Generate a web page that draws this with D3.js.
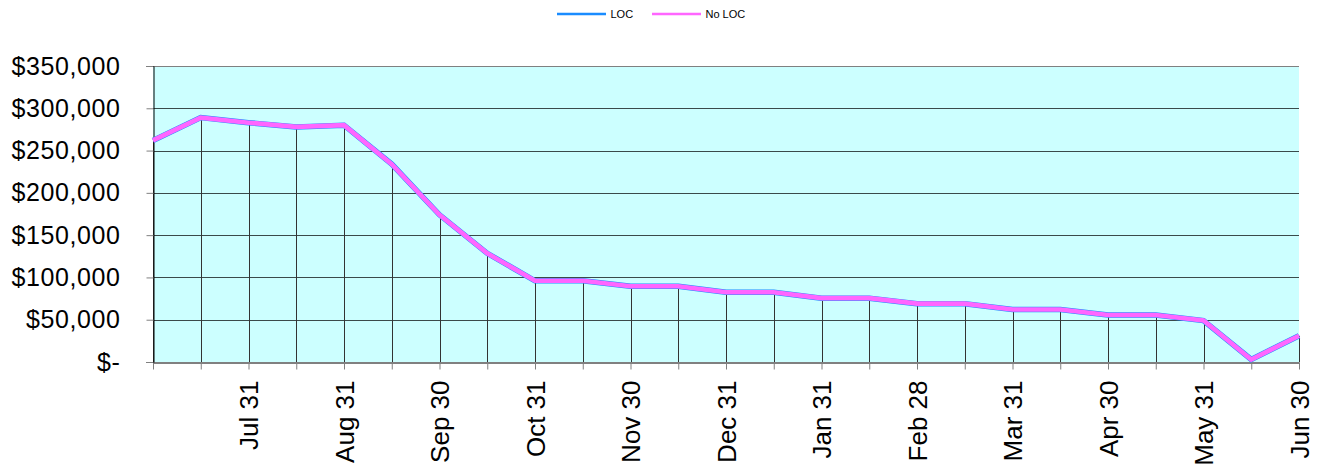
<!DOCTYPE html>
<html>
<head>
<meta charset="utf-8">
<script src="https://cdn.jsdelivr.net/npm/d3@7"></script>
<style>
  html, body { margin: 0; padding: 0; background: #ffffff; }
  svg { display: block; font-family: "Liberation Sans", Arial, sans-serif; }
</style>
</head>
<body>
<svg id="chart" width="1320" height="472"></svg>
<script>
// Category axis: one point every half month, labelled at month ends
const categories = ["", "", "Jul 31", "", "Aug 31", "", "Sep 30", "", "Oct 31", "", "Nov 30", "", "Dec 31",
  "", "Jan 31", "", "Feb 28", "", "Mar 31", "", "Apr 30", "", "May 31", "", "Jun 30"];

// Balances for each scenario
const locValues = [262000, 289000, 283000, 278000, 280000, 234000, 174000, 128500, 96000, 96000, 89500, 89500,
  82500, 82500, 75500, 75500, 69000, 69000, 62000, 62000, 55500, 55500, 49000, 3000, 31000];
const noLocValues = [262000, 289000, 283000, 278000, 280000, 234000, 174000, 128500, 96000, 96000, 89500, 89500,
  82500, 82500, 75500, 75500, 69000, 69000, 62000, 62000, 55500, 55500, 49000, 3000, 31000];

const yTicks = [0, 50000, 100000, 150000, 200000, 250000, 300000, 350000];
const seriesNames = ["LOC", "No LOC"];
const seriesColors = ["#1a8cff", "#ff66ff"];

const svg = d3.select("#chart");
const plotLeft = 153, plotRight = 1299, plotTop = 66, plotBottom = 362;

const x = d3.scalePoint().domain(d3.range(categories.length)).range([plotLeft, plotRight]);
const y = d3.scaleLinear().domain([0, 350000]).range([plotBottom, plotTop]);
const crisp = v => Math.round(v) + 0.5;

// Plot background
svg.append("rect")
  .attr("x", plotLeft).attr("y", plotTop)
  .attr("width", plotRight - plotLeft).attr("height", plotBottom - plotTop)
  .attr("fill", "#ccffff");

// Horizontal gridlines
svg.append("g").selectAll("line").data(yTicks.filter(d => d > 0)).join("line")
  .attr("x1", plotLeft).attr("x2", plotRight)
  .attr("y1", d => crisp(y(d))).attr("y2", d => crisp(y(d)))
  .attr("stroke", d => d === 350000 ? "#808080" : "#3a4a4a").attr("stroke-width", 1);

// Drop lines from each point to the category axis
svg.append("g").selectAll("line").data(noLocValues).join("line")
  .attr("x1", (d, i) => crisp(x(i))).attr("x2", (d, i) => crisp(x(i)))
  .attr("y1", d => y(d)).attr("y2", plotBottom)
  .attr("stroke", "#333333").attr("stroke-width", 1);

// Value axis
const yAxis = d3.axisLeft(y).tickValues(yTicks).tickSize(7).tickPadding(26)
  .tickFormat(d => d === 0 ? "$-" : "$" + d3.format(",")(d));
const gy = svg.append("g").attr("transform", `translate(${plotLeft + 0.5},0)`).call(yAxis);
gy.select(".domain").attr("stroke", "#000000");
gy.selectAll(".tick line").attr("stroke", "#808080");
gy.selectAll(".tick text").attr("font-size", "25px").attr("fill", "#000000")
  .attr("font-family", "'Liberation Sans', Arial, sans-serif")
  .attr("letter-spacing", "0.6px");

// Category axis
const xAxis = d3.axisBottom(x).tickSize(7).tickSizeOuter(0).tickFormat(i => categories[i]);
const gx = svg.append("g").attr("transform", `translate(0,${plotBottom + 0.5})`).call(xAxis);
gx.select(".domain").attr("stroke", "#808080").attr("stroke-width", 2);
gx.selectAll(".tick line").attr("stroke", "#808080");
gx.selectAll(".tick text")
  .attr("font-size", "26px").attr("fill", "#000000")
  .attr("font-family", "'Liberation Sans', Arial, sans-serif")
  .attr("text-anchor", "end")
  .attr("transform", "rotate(-90)")
  .attr("x", -18).attr("y", 0).attr("dy", "0.35em");
gy.raise();

// Series lines
const line = d3.line().x((d, i) => x(i)).y(d => y(d));
svg.append("path").datum(locValues)
  .attr("d", line).attr("fill", "none")
  .attr("stroke", seriesColors[0]).attr("stroke-width", 5.5).attr("stroke-linejoin", "miter");
svg.append("path").datum(noLocValues)
  .attr("d", line).attr("fill", "none")
  .attr("stroke", seriesColors[1]).attr("stroke-width", 4.6).attr("stroke-linejoin", "miter");

// Legend
const legend = svg.append("g");
const legendX = [557, 652];
seriesNames.forEach((name, i) => {
  legend.append("line")
    .attr("x1", legendX[i]).attr("x2", legendX[i] + 49)
    .attr("y1", 14).attr("y2", 14)
    .attr("stroke", seriesColors[i]).attr("stroke-width", 2.5);
  legend.append("text")
    .attr("x", legendX[i] + 53.5).attr("y", 14).attr("dy", "0.35em")
    .attr("font-size", "11px").attr("fill", "#000000")
    .text(name);
});
</script>
</body>
</html>
